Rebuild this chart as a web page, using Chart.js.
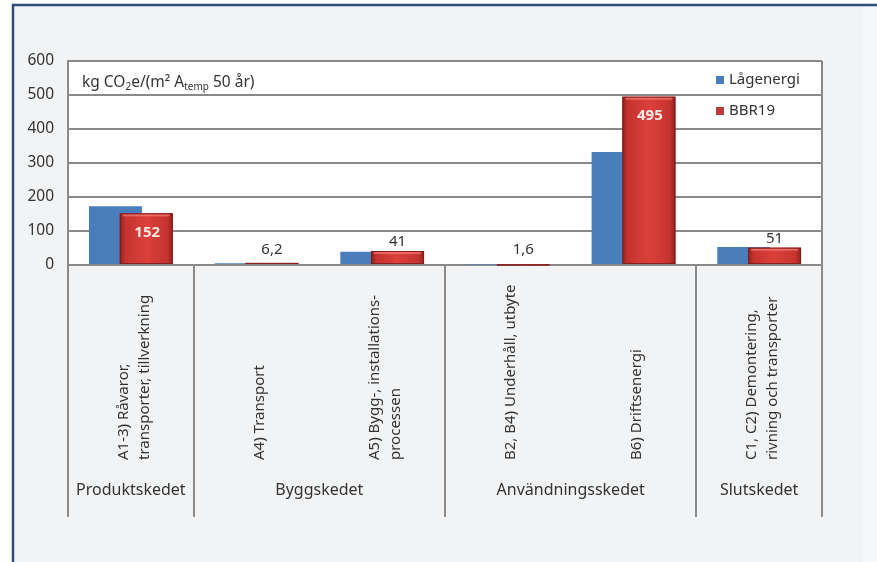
<!DOCTYPE html>
<html>
<head>
<meta charset="utf-8">
<script src="https://cdn.jsdelivr.net/npm/chart.js@4/dist/chart.umd.min.js"></script>
<style>
  html, body { margin: 0; padding: 0; background: #ffffff; }
  #wrap { width: 877px; height: 562px; }
</style>
</head>
<body>
<div id="wrap"><canvas id="diagram" width="877" height="562"></canvas></div>
<script>
// data
const kategorier = [
  ['A1-3) Råvaror,', 'transporter, tillverkning'],
  ['A4) Transport'],
  ['A5) Bygg-, installations-', 'processen'],
  ['B2, B4) Underhåll, utbyte'],
  ['B6) Driftsenergi'],
  ['C1, C2) Demontering,', 'rivning och transporter']
];
const skeden = [
  { namn: 'Produktskedet', fran: 0, till: 0 },
  { namn: 'Byggskedet', fran: 1, till: 2 },
  { namn: 'Användningsskedet', fran: 3, till: 4 },
  { namn: 'Slutskedet', fran: 5, till: 5 }
];
const lagenergi = [173, 5, 39, 1.5, 332, 53];
const bbr19 = [152, 6.2, 41, 1.6, 495, 51];
const yTicks = [0, 100, 200, 300, 400, 500, 600];

const textFarg = '#333333';
const linjeFarg = '#8a8a8a';
const fontNamn = '"Noto Sans", "DejaVu Sans", sans-serif';

function formatera(v) {
  return String(v).replace('.', ',');
}

const bakgrund = {
  id: 'bakgrund',
  beforeDraw(chart) {
    const ctx = chart.ctx;
    const a = chart.chartArea;
    ctx.save();
    ctx.fillStyle = '#ffffff';
    ctx.fillRect(0, 0, chart.width, chart.height);
    ctx.fillStyle = '#f2f3f4';
    ctx.fillRect(13, 5, chart.width - 13, chart.height - 5);
    ctx.fillStyle = '#f6f7f8';
    ctx.fillRect(862, 7, chart.width - 862, chart.height - 7);
    ctx.strokeStyle = '#2e4c78';
    ctx.lineWidth = 2.5;
    ctx.beginPath();
    ctx.moveTo(13, chart.height);
    ctx.lineTo(13, 5);
    ctx.lineTo(chart.width, 5);
    ctx.stroke();
    ctx.fillStyle = '#ffffff';
    ctx.fillRect(a.left, a.top, a.right - a.left, a.bottom - a.top);
    ctx.restore();
  }
};

// BBR19 bars drawn again on top of Lågenergi, with the bevelled red look
const rodaStaplar = {
  id: 'rodaStaplar',
  afterDatasetsDraw(chart) {
    const ctx = chart.ctx;
    const meta = chart.getDatasetMeta(1);
    const a = chart.chartArea;
    ctx.save();
    ctx.beginPath();
    ctx.rect(a.left, a.top, a.right - a.left, a.bottom - a.top + 2);
    ctx.clip();
    meta.data.forEach(bar => {
      const p = bar.getProps(['x', 'y', 'base', 'width'], true);
      const vx = p.x - p.width / 2;
      const h = p.base - p.y;
      const g = ctx.createLinearGradient(vx, 0, vx + p.width, 0);
      g.addColorStop(0, '#8e201e');
      g.addColorStop(0.1, '#c5332f');
      g.addColorStop(0.5, '#dc403b');
      g.addColorStop(0.9, '#c5332f');
      g.addColorStop(1, '#8e201e');
      ctx.fillStyle = g;
      ctx.fillRect(vx, p.y, p.width, Math.max(h, 1));
      if (h > 4) {
        ctx.fillStyle = 'rgba(255,150,140,0.55)';
        ctx.fillRect(vx + 3, p.y + 1, p.width - 6, 2);
      }
      ctx.strokeStyle = 'rgba(120,25,22,0.8)';
      ctx.lineWidth = 1;
      ctx.strokeRect(vx + 0.5, p.y + 0.5, p.width - 1, Math.max(h - 1, 0));
    });
    ctx.restore();
  }
};

const ramOchEtiketter = {
  id: 'ramOchEtiketter',
  afterDraw(chart) {
    const ctx = chart.ctx;
    const a = chart.chartArea;
    const x = chart.scales.x;
    const bredd = (a.right - a.left) / kategorier.length;
    const nederst = 517;
    ctx.save();
    ctx.strokeStyle = linjeFarg;
    ctx.lineWidth = 2;

    // vertical lines between the stages
    const gränser = [0];
    skeden.forEach(s => gränser.push(s.till + 1));
    gränser.forEach(g => {
      const px = Math.round(x.getPixelForValue(g) - bredd / 2);
      ctx.beginPath();
      ctx.moveTo(px, g === 0 || g === kategorier.length ? a.top : a.bottom);
      ctx.lineTo(px, nederst);
      ctx.stroke();
    });

    // rotated category labels
    ctx.fillStyle = textFarg;
    ctx.font = '15px ' + fontNamn;
    ctx.textAlign = 'left';
    ctx.textBaseline = 'middle';
    const radAvstand = 21;
    kategorier.forEach((rader, i) => {
      const cx = x.getPixelForValue(i) + 3;
      ctx.save();
      ctx.translate(cx, 460);
      ctx.rotate(-Math.PI / 2);
      rader.forEach((rad, j) => {
        const dy = (j - (rader.length - 1) / 2) * radAvstand;
        ctx.fillText(rad, 0, dy);
      });
      ctx.restore();
    });

    // stage names
    ctx.font = '16px ' + fontNamn;
    ctx.textAlign = 'center';
    skeden.forEach(s => {
      const cx = (x.getPixelForValue(s.fran) + x.getPixelForValue(s.till)) / 2;
      ctx.fillText(s.namn, cx, 490);
    });

    // unit text inside the plot
    let tx = a.left + 14;
    const ty = a.top + 21;
    ctx.textAlign = 'left';
    ctx.textBaseline = 'alphabetic';
    const delar = [
      ['kg CO', 15.5, 0], ['2', 10, 3], ['e/(m² A', 15.5, 0], ['temp', 10, 3], [' 50 år)', 15.5, 0]
    ];
    delar.forEach(d => {
      ctx.font = d[1] + 'px ' + fontNamn;
      ctx.fillText(d[0], tx, ty + 5 + d[2]);
      tx += ctx.measureText(d[0]).width;
    });

    // legend
    const poster = [
      { text: 'Lågenergi', farg: '#4a7ebb', y: 80 },
      { text: 'BBR19', farg: '#c0393a', y: 111 }
    ];
    ctx.font = '15px ' + fontNamn;
    ctx.textBaseline = 'middle';
    poster.forEach(p => {
      ctx.fillStyle = p.farg;
      ctx.fillRect(716, p.y - 4, 8, 8);
      ctx.fillStyle = textFarg;
      ctx.fillText(p.text, 729, p.y);
    });

    // value labels for BBR19
    const meta = chart.getDatasetMeta(1);
    ctx.textAlign = 'center';
    ctx.textBaseline = 'middle';
    meta.data.forEach((bar, i) => {
      const v = bbr19[i];
      if (v > 100) {
        ctx.font = 'bold 15px ' + fontNamn;
        ctx.fillStyle = '#fbe9e8';
        ctx.fillText(formatera(v), bar.x + 1, bar.y + 19);
      } else {
        ctx.font = '15px ' + fontNamn;
        ctx.fillStyle = textFarg;
        ctx.fillText(formatera(v), bar.x, Math.min(bar.y, 259) - 9);
      }
    });
    ctx.restore();
  }
};

new Chart(document.getElementById('diagram'), {
  type: 'bar',
  data: {
    labels: kategorier,
    datasets: [
      {
        label: 'Lågenergi',
        data: lagenergi,
        backgroundColor: '#4a7ebb',
        borderWidth: 0
      },
      {
        label: 'BBR19',
        data: bbr19,
        backgroundColor: '#cf3a36',
        borderWidth: 0
      }
    ]
  },
  options: {
    responsive: false,
    animation: false,
    categoryPercentage: 0.49,
    barPercentage: 1.72,
    layout: { padding: { left: 0, right: 55, top: 61, bottom: 45 } },
    plugins: {
      legend: { display: false },
      tooltip: { enabled: false }
    },
    scales: {
      x: {
        ticks: { display: false },
        grid: { display: false },
        border: { display: true, color: linjeFarg, width: 2 },
        afterFit(scale) { scale.height = 252; }
      },
      y: {
        min: 0,
        max: 600,
        afterBuildTicks(scale) { scale.ticks = yTicks.map(v => ({ value: v })); },
        ticks: {
          color: textFarg,
          padding: 14,
          font: { size: 15.5, family: fontNamn }
        },
        grid: { color: linjeFarg, lineWidth: 2, drawTicks: false },
        border: { display: true, color: linjeFarg, width: 2 },
        afterFit(scale) { scale.width = 68; }
      }
    }
  },
  plugins: [bakgrund, rodaStaplar, ramOchEtiketter]
});
</script>
</body>
</html>
